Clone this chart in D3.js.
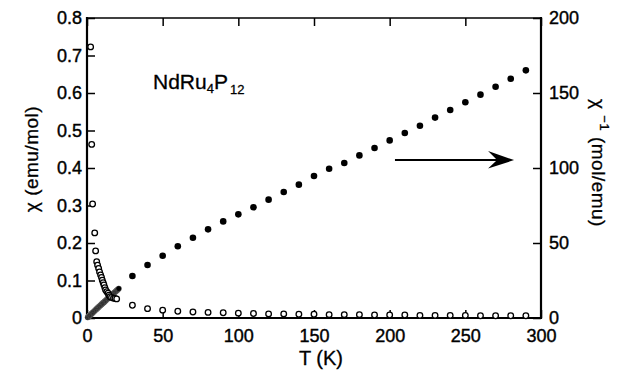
<!DOCTYPE html>
<html>
<head>
<meta charset="utf-8">
<script src="https://cdn.jsdelivr.net/npm/d3@7"></script>
<style>
  body { margin: 0; background: #fff; }
  text { font-family: "Liberation Sans", Arial, Helvetica, sans-serif; fill: #000; }
</style>
</head>
<body>
<svg id="chart" width="623" height="374"></svg>
<script>
// Magnetic susceptibility χ (emu/mol) vs temperature, left axis (open circles)
const chiT = [2.4, 3.1, 3.7, 5.1, 5.7, 6.4, 7.0, 7.7, 8.3, 9.0, 9.6, 10.1, 10.7, 11.2, 11.8, 12.3,
  13.1, 13.9, 14.5, 15.2, 16.2, 17.5, 18.5, 19.6,
  30, 40, 50, 60, 70, 80, 90, 100, 110, 120, 130, 140, 150, 160, 170, 180, 190, 200,
  210, 220, 230, 240, 250, 260, 270, 280, 290];
const chiV = [0.723, 0.463, 0.304, 0.227, 0.179, 0.150, 0.141, 0.132, 0.123, 0.115, 0.108, 0.101,
  0.094, 0.088, 0.081, 0.075, 0.070, 0.066, 0.061, 0.057, 0.055, 0.053, 0.052, 0.051,
  0.034, 0.025, 0.021, 0.018, 0.016, 0.015, 0.014, 0.013, 0.012, 0.011, 0.011, 0.010, 0.010,
  0.009, 0.009, 0.009, 0.008, 0.008, 0.008, 0.007, 0.007, 0.007, 0.007, 0.006, 0.006, 0.006, 0.006];

// Inverse susceptibility χ⁻¹ (mol/emu), right axis (filled circles)
const invLowT = [0.5, 1, 1.5, 2, 2.5, 3, 3.5, 4, 4.5, 5, 5.5, 6, 6.5, 7, 7.5, 8, 8.5, 9, 9.5, 10,
  10.5, 11, 11.5, 12, 12.5, 13, 13.5, 14, 14.5, 15, 15.5, 16, 16.5, 17, 17.5, 18, 18.5, 19, 19.5, 20, 20.5, 21];
const invLowV = [0.5, 0.9, 1.4, 1.9, 2.4, 2.9, 3.4, 3.8, 4.3, 4.8, 5.3, 5.8, 6.2, 6.7, 7.2, 7.6, 8.1,
  8.6, 9.0, 9.5, 10.0, 10.4, 10.9, 11.4, 11.8, 12.3, 12.8, 13.2, 13.7, 14.1, 14.6, 15.1, 15.5, 16.0,
  16.4, 16.9, 17.3, 17.8, 18.2, 18.7, 19.1, 19.6];
const invT = [30, 40, 50, 60, 70, 80, 90, 100, 110, 120, 130, 140, 150, 160, 170, 180, 190, 200,
  210, 220, 230, 240, 250, 260, 270, 280, 290];
const invV = [28, 35.3, 41.5, 47.8, 53.5, 59.1, 64.4, 69.1, 73.8, 78.9, 84, 88.9, 94.7, 99.5, 103.3,
  108.4, 113.3, 118.4, 123.3, 128.2, 133.6, 138.7, 143.8, 148.9, 154.2, 159.5, 165.1];

// Axis ticks
const xTicks = [0, 50, 100, 150, 200, 250, 300];
const leftTicks = [0, 0.1, 0.2, 0.3, 0.4, 0.5, 0.6, 0.7, 0.8];
const rightTicks = [0, 50, 100, 150, 200];

// Arrow pointing to the right-hand axis (T, χ⁻¹)
const arrowFrom = [203.5, 105.3];
const arrowTo = [282.2, 105.3];

const svg = d3.select("#chart");
const W = 623, H = 374;
const m = { left: 87, right: 82, top: 18, bottom: 56 };
const x0 = m.left, x1 = W - m.right, y0 = H - m.bottom, y1 = m.top;

const x = d3.scaleLinear().domain([0, 300]).range([x0, x1]);
const yL = d3.scaleLinear().domain([0, 0.8]).range([y0, y1]);
const yR = d3.scaleLinear().domain([0, 200]).range([y0, y1]);

const tickFont = "18px";

// Bottom axis
const gB = svg.append("g").attr("transform", `translate(0,${y0})`)
  .call(d3.axisBottom(x).tickValues(xTicks).tickFormat(d3.format("d"))
    .tickSizeInner(-8).tickSizeOuter(0).tickPadding(11));
// Top axis (ticks only)
const gT = svg.append("g").attr("transform", `translate(0,${y1})`)
  .call(d3.axisTop(x).tickValues(xTicks).tickFormat("")
    .tickSizeInner(-8).tickSizeOuter(0));
// Left axis
const gL = svg.append("g").attr("transform", `translate(${x0},0)`)
  .call(d3.axisLeft(yL).tickValues(leftTicks).tickFormat(d => d === 0 ? "0" : d3.format(".1f")(d))
    .tickSizeInner(-8).tickSizeOuter(0).tickPadding(5));
// Right axis
const gR = svg.append("g").attr("transform", `translate(${x1},0)`)
  .call(d3.axisRight(yR).tickValues(rightTicks).tickFormat(d3.format("d"))
    .tickSizeInner(-8).tickSizeOuter(0).tickPadding(8));

[gB, gT, gL, gR].forEach(g => {
  g.select(".domain").remove();
  g.selectAll(".tick line").attr("stroke", "#000").attr("stroke-width", 1.5);
  g.selectAll(".tick text").attr("font-size", tickFont).attr("font-family", null)
    .attr("stroke", "#000").attr("stroke-width", 0.4);
});

// Plot frame
const frame = svg.append("g").attr("stroke", "#000").attr("fill", "none");
frame.append("line").attr("x1", x0).attr("x2", x0).attr("y1", y1 - 1).attr("y2", y0 + 1).attr("stroke-width", 2.2);
frame.append("line").attr("x1", x0 - 1).attr("x2", x1 + 1).attr("y1", y0).attr("y2", y0).attr("stroke-width", 2.2);
frame.append("line").attr("x1", x1).attr("x2", x1).attr("y1", y1 - 1).attr("y2", y0 + 1).attr("stroke-width", 2.2);
frame.append("line").attr("x1", x0).attr("x2", x1).attr("y1", y1).attr("y2", y1).attr("stroke-width", 1.6);

// Dense low-temperature χ⁻¹ data (drawn as a dark stippled band of dots)
svg.append("g").selectAll("circle")
  .data(invLowT.map((t, i) => [t, invLowV[i]]))
  .join("circle")
  .attr("cx", d => x(d[0])).attr("cy", d => yR(d[1])).attr("r", 2.9)
  .attr("fill", "#000").attr("stroke", "#fff").attr("stroke-width", 0.25);

// χ open circles
svg.append("g").selectAll("circle")
  .data(chiT.map((t, i) => [t, chiV[i]]))
  .join("circle")
  .attr("cx", d => x(d[0])).attr("cy", d => yL(d[1])).attr("r", 2.8)
  .attr("fill", "#fff").attr("stroke", "#000").attr("stroke-width", 1.3);

// χ⁻¹ filled circles
svg.append("g").selectAll("circle")
  .data(invT.map((t, i) => [t, invV[i]]))
  .join("circle")
  .attr("cx", d => x(d[0])).attr("cy", d => yR(d[1])).attr("r", 3.3)
  .attr("fill", "#000");

// Arrow toward the χ⁻¹ axis
const ax0 = x(arrowFrom[0]), ay = yR(arrowFrom[1]), ax1 = x(arrowTo[0]);
svg.append("line").attr("x1", ax0).attr("x2", ax1 - 8).attr("y1", ay).attr("y2", ay)
  .attr("stroke", "#000").attr("stroke-width", 2);
svg.append("path")
  .attr("d", `M${ax1},${ay} L${ax1 - 26},${ay - 9} L${ax1 - 17},${ay} L${ax1 - 26},${ay + 8.5} Z`)
  .attr("fill", "#000");

// Compound label
const title = svg.append("text").attr("x", 153).attr("y", 89).attr("font-size", "21px")
  .attr("stroke", "#000").attr("stroke-width", 0.3);
title.append("tspan").text("NdRu");
title.append("tspan").attr("font-size", "13px").attr("dy", 4).text("4");
title.append("tspan").attr("dy", -4).text("P");
title.append("tspan").attr("font-size", "13px").attr("dy", 5).attr("dx", 2).text("12");

// Axis titles
svg.append("text").attr("x", 321).attr("y", 365).attr("text-anchor", "middle")
  .attr("font-size", "20px").attr("stroke", "#000").attr("stroke-width", 0.3).text("T (K)");

svg.append("text").attr("transform", "translate(38,159) rotate(-90)").attr("text-anchor", "middle")
  .attr("font-size", "19px").attr("letter-spacing", "0.5px")
  .attr("stroke", "#000").attr("stroke-width", 0.3).text("χ (emu/mol)");

const rt = svg.append("text").attr("transform", "translate(592,163) rotate(90)").attr("text-anchor", "middle")
  .attr("font-size", "19px").attr("letter-spacing", "0.5px")
  .attr("stroke", "#000").attr("stroke-width", 0.3);
rt.append("tspan").text("χ ");
rt.append("tspan").attr("font-size", "13px").attr("dy", -8).text("−1");
rt.append("tspan").attr("dy", 8).text(" (mol/emu)");
</script>
</body>
</html>
